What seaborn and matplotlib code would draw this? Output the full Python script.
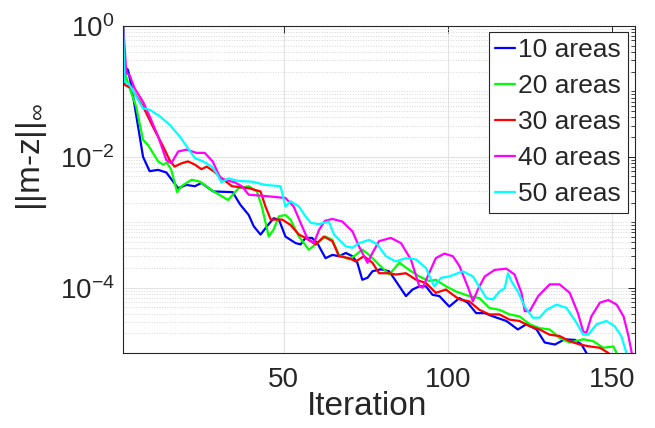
import numpy as np
import pandas as pd
import matplotlib
matplotlib.use("Agg")
import matplotlib.pyplot as plt
import seaborn as sns
from matplotlib.ticker import FixedLocator, LogLocator, FuncFormatter, NullFormatter

# values (log10 of ||m-z||_inf at given iterations)
iter_10 = [1, 1.4, 2.5, 3.5, 5.6, 7.1, 9.1, 11.7, 14.2, 17.8, 20.3, 22.9, 24.9, 28.5, 34.4, 36.7,
           39.3, 40.8, 42.9, 44.9, 46.9, 48.5, 50.5, 53.6, 55.1, 56.6, 58.6, 60.2, 62.7, 64.8, 66.8,
           68.9, 70.9, 72.4, 73.9, 75.5, 77, 79.6, 82.1, 85.2, 87.2, 89.2, 91.3, 93.3, 95.3, 97.4,
           100.4, 103.5, 106, 108.6, 111.2, 113.7, 117.8, 121.3, 123.9, 127, 129.5, 132.6, 135.6,
           138.7, 140.7, 142.2, 143]
log_10 = [0.05, -0.62, -0.67, -0.90, -1.54, -2.0, -2.22, -2.2, -2.24, -2.48, -2.43, -2.45, -2.40,
          -2.53, -2.54, -2.73, -2.89, -3.06, -3.19, -3.06, -2.94, -2.96, -3.22, -3.32, -3.34, -3.24,
          -3.24, -3.32, -3.55, -3.50, -3.52, -3.47, -3.52, -3.62, -3.88, -3.85, -3.75, -3.72, -3.75,
          -3.98, -4.13, -4.03, -3.98, -3.98, -4.11, -4.13, -4.29, -4.16, -4.23, -4.39, -4.39, -4.44,
          -4.51, -4.64, -4.56, -4.64, -4.84, -4.87, -4.79, -4.80, -4.87, -5.0, -5.1]

iter_20 = [1, 1.5, 3, 5, 7.1, 8.6, 10.1, 11.7, 13.2, 14.4, 15.7, 17.5, 18.8, 21.9, 24.4, 28.3, 33,
           36.2, 39.3, 41.8, 43.3, 45.4, 46.9, 48.5, 50.5, 52, 54.6, 57.6, 60.2, 62.7, 64.8, 66.8,
           69.9, 71.9, 73.9, 76, 79, 82.1, 85.2, 88.2, 91.3, 94.3, 96.3, 99.4, 102.5, 106.5, 109.6,
           112.6, 115.7, 118.8, 121.8, 124.9, 127.9, 131, 134, 137.1, 141.2, 144.3, 147.3, 150.4,
           151.4, 152]
log_20 = [0.05, -0.70, -0.95, -1.23, -1.74, -1.82, -1.94, -2.07, -2.12, -2.09, -2.2, -2.54, -2.45,
          -2.35, -2.38, -2.52, -2.66, -2.48, -2.45, -2.53, -2.76, -3.22, -3.11, -2.91, -2.89, -2.96,
          -3.22, -3.42, -3.32, -3.22, -3.27, -3.50, -3.57, -3.50, -3.42, -3.50, -3.65, -3.80, -3.62,
          -3.73, -3.83, -3.90, -3.88, -3.98, -4.06, -4.13, -4.16, -4.31, -4.34, -4.41, -4.44, -4.56,
          -4.62, -4.64, -4.77, -4.84, -4.79, -4.82, -4.92, -4.90, -5.0, -5.1]

iter_30 = [1, 1.5, 3.5, 7.1, 10.1, 13.2, 15.2, 16.7, 18.8, 20.8, 22.9, 24.9, 26.5, 28.6, 31.1, 34.2,
           39.3, 42.9, 44.4, 46, 49.5, 52, 54.6, 56.6, 59.7, 62.2, 64.8, 66.8, 69.9, 71.9, 74.4, 77,
           79, 82.1, 84.1, 87.2, 90.3, 93.3, 96.3, 99.4, 101.5, 103.5, 106.5, 109.6, 112.6, 115.7,
           118.8, 121.8, 124.9, 127.9, 131, 134, 137.1, 140.2, 143.2, 146.3, 148.9, 150]
log_30 = [0.05, -0.90, -0.95, -1.23, -1.54, -1.84, -2.05, -2.15, -2.10, -2.07, -2.12, -2.19, -2.15,
          -2.22, -2.33, -2.45, -2.48, -2.53, -2.76, -2.96, -2.96, -3.04, -3.19, -3.24, -3.34, -3.22,
          -3.29, -3.52, -3.55, -3.6, -3.52, -3.62, -3.78, -3.78, -3.80, -3.78, -3.88, -3.93, -4.08,
          -4.03, -4.11, -4.18, -4.21, -4.34, -4.41, -4.41, -4.49, -4.51, -4.59, -4.64, -4.72, -4.74,
          -4.82, -4.87, -4.90, -4.92, -5.0, -5.1]

iter_40 = [1, 2, 3, 4.5, 7.1, 9.1, 11.7, 14.2, 15.7, 17.8, 20.3, 23.4, 25.9, 28.3, 30.6, 32.6, 35,
           37.2, 39.3, 44.4, 50.5, 53, 55.1, 57.1, 59.2, 60.7, 62.5, 64.8, 67.8, 70.9, 72.9, 75.5,
           77, 79, 82.6, 85.7, 88.7, 91.3, 92.3, 93.8, 96.3, 98.9, 101.5, 103.5, 106, 107.6, 109.1,
           111.2, 114.2, 117.8, 120.3, 122.4, 123.4, 124.9, 127.5, 131, 134, 137.1, 139.6, 141.2,
           142.2, 143.7, 146.3, 148.9, 151.4, 153.5, 155, 156, 157]
log_40 = [0.05, -0.72, -0.75, -0.95, -1.16, -1.38, -1.69, -2.05, -2.10, -1.92, -1.89, -1.94, -1.94,
          -2.07, -2.32, -2.36, -2.39, -2.45, -2.58, -2.60, -2.63, -2.76, -3.01, -3.24, -3.32, -3.12,
          -2.98, -2.95, -2.99, -3.14, -3.37, -3.62, -3.47, -3.29, -3.24, -3.32, -3.57, -3.98, -4.0,
          -3.83, -3.55, -3.48, -3.52, -3.67, -3.98, -4.21, -4.03, -3.83, -3.73, -3.71, -3.80, -4.08,
          -4.36, -4.36, -4.13, -3.95, -3.95, -4.08, -4.39, -4.67, -4.69, -4.44, -4.23, -4.19, -4.26,
          -4.44, -4.74, -5.0, -5.2]

iter_50 = [1, 1.5, 3, 5, 7.1, 9.1, 12.2, 15.2, 18.3, 20.8, 22.9, 25.4, 28, 29.5, 31, 33.1, 36.2,
           40.3, 44.4, 49, 50.5, 52, 54.6, 56.6, 58.2, 60.7, 63.7, 65.3, 68.9, 70.9, 72.9, 76, 78.5,
           81.1, 84.1, 87.2, 90.3, 93.3, 95.8, 97.9, 100.4, 104.5, 107.6, 110.1, 111.7, 113.7, 115.7,
           117.3, 118.3, 119.3, 121.3, 123.4, 125.9, 127.9, 130, 133.1, 136.1, 139.2, 141.2, 142.7,
           145.3, 148.3, 150.8, 152.8, 154.4, 155]
log_50 = [0.05, -0.85, -0.90, -1.08, -1.26, -1.28, -1.38, -1.51, -1.69, -1.87, -2.02, -2.07, -2.15,
          -2.25, -2.39, -2.33, -2.37, -2.38, -2.43, -2.45, -2.76, -2.68, -2.76, -2.91, -3.01, -3.03,
          -2.99, -3.19, -3.37, -3.39, -3.32, -3.27, -3.34, -3.52, -3.60, -3.55, -3.57, -3.70, -3.98,
          -3.85, -3.83, -3.75, -3.83, -4.03, -4.16, -4.18, -4.06, -4.01, -3.78, -3.90, -4.06, -4.29,
          -4.46, -4.46, -4.34, -4.26, -4.31, -4.54, -4.72, -4.72, -4.56, -4.51, -4.59, -4.74, -5.0,
          -5.1]

labels = ["10 areas", "20 areas", "30 areas", "40 areas", "50 areas"]
colors = ["#0000ff", "#00ff00", "#ff0000", "#ff00ff", "#00ffff"]
x_ticks = [50, 100, 150]
y_ticks = [1e0, 1e-2, 1e-4]

frames = []
for lab, it, lg in zip(labels, [iter_10, iter_20, iter_30, iter_40, iter_50],
                       [log_10, log_20, log_30, log_40, log_50]):
    frames.append(pd.DataFrame({"iteration": it, "err": np.power(10.0, lg), "areas": lab}))
df = pd.concat(frames, ignore_index=True)

sns.set_style("white")
plt.rcParams["font.family"] = ["Liberation Sans", "DejaVu Sans"]
plt.rcParams["mathtext.fontset"] = "custom"
plt.rcParams["mathtext.rm"] = "Liberation Sans"
plt.rcParams["mathtext.it"] = "Liberation Sans:italic"

fig, ax = plt.subplots(figsize=(6.55, 4.28), dpi=100)
fig.subplots_adjust(left=0.1878, right=0.9695, bottom=0.1752, top=0.9393)

sns.lineplot(data=df, x="iteration", y="err", hue="areas", hue_order=labels,
             palette=colors, estimator=None, sort=False, linewidth=1.6, ax=ax)

ax.set_yscale("log")
ax.set_xlim(1, 157)
ax.set_ylim(1e-5, 1e0)

ax.xaxis.set_major_locator(FixedLocator(x_ticks))
ax.yaxis.set_major_locator(FixedLocator(y_ticks))
ax.yaxis.set_minor_locator(LogLocator(base=10, subs=np.arange(1, 10), numticks=30))
ax.yaxis.set_major_formatter(FuncFormatter(lambda v, p: r"$10^{%d}$" % round(np.log10(v))))
ax.yaxis.set_minor_formatter(NullFormatter())

ax.grid(True, which="major", color="#e3e3e3", linewidth=0.8)
ax.grid(True, which="minor", axis="y", color="#d6d6d6", linestyle=":", linewidth=0.7)
ax.set_axisbelow(True)

for s in ax.spines.values():
    s.set_color("#262626")
    s.set_linewidth(0.8)
ax.tick_params(which="both", direction="in", top=True, right=True, colors="#262626",
               labelcolor="#262626")
ax.tick_params(which="major", length=5, width=0.7, labelsize=20)
ax.tick_params(axis="x", which="major", pad=10)
ax.tick_params(axis="y", which="major", pad=6)
ax.tick_params(which="minor", length=3, width=0.6)

ax.set_xlabel("Iteration", fontsize=24, color="#262626")
ax.set_ylabel(r"||m-z||$_{\infty}$", fontsize=24, color="#262626")
ax.xaxis.set_label_coords(0.476, -0.115)
ax.yaxis.set_label_coords(-0.145, 0.6)

leg = ax.legend(loc="upper right", bbox_to_anchor=(0.986, 0.982), borderaxespad=0,
                fontsize=19, handlelength=0.75, handletextpad=0.12, labelspacing=0.45,
                borderpad=0.25, fancybox=False, framealpha=1, edgecolor="#262626")
leg.get_frame().set_linewidth(0.8)
for h in leg.get_lines():
    h.set_linewidth(1.6)

fig.savefig("out.png", dpi=100)
